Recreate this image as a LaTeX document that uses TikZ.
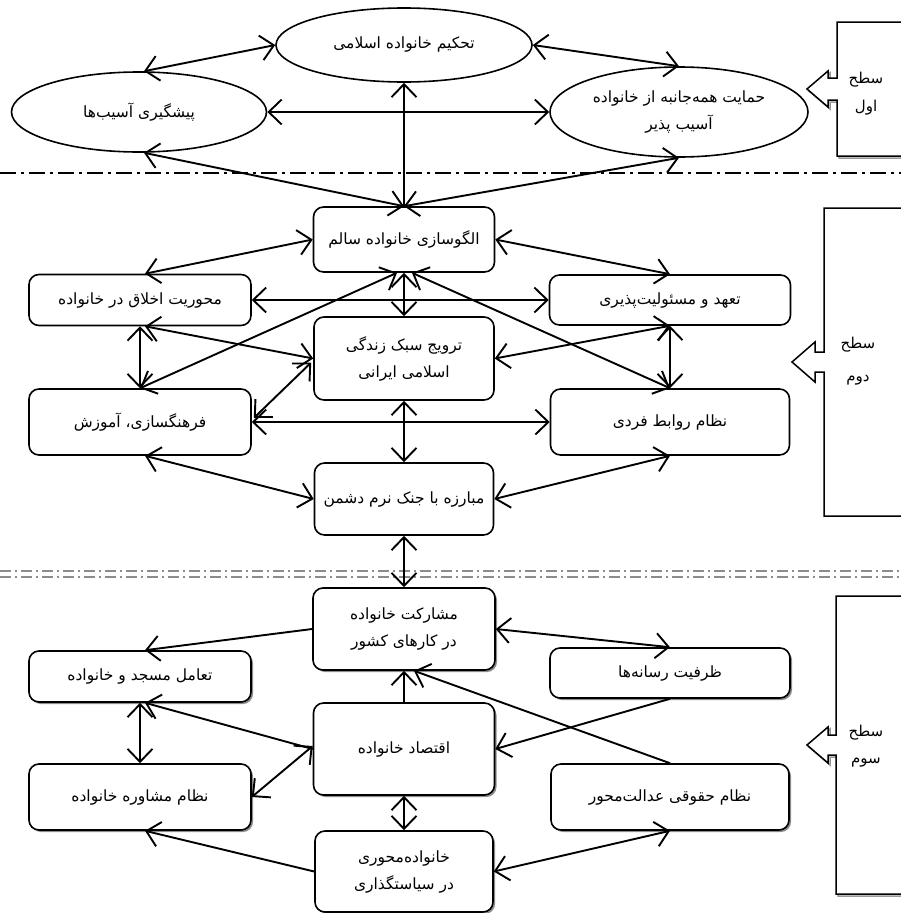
\documentclass[tikz,border=0pt]{standalone}
\usepackage{fontspec}
\newfontfamily\arabicfont[Script=Arabic]{DejaVu Sans}
\TeXXeTstate=1
\usetikzlibrary{shapes.geometric,arrows.meta,shadows,calc}
\begin{document}
\begin{tikzpicture}[x=1pt,y=-1pt,
  >={Straight Barb[length=13pt,width=25pt]},
  txt/.style={font=\arabicfont\fontsize{15.5}{27}\selectfont, align=center, inner sep=0pt},
  ovalnode/.style={txt, ellipse, draw, line width=1.6pt, fill=white},
  boxnode/.style={txt, rectangle, rounded corners=10pt, draw, line width=1.6pt, fill=white},
  shboxnode/.style={boxnode, drop shadow={shadow xshift=2pt, shadow yshift=-2pt, fill=black!45, opacity=1}},
  link/.style={line width=1.9pt},
  lvlbox/.style={line width=1.5pt, fill=white},
  lvlshadow/.style={line width=1.5pt, draw=black!40},
  lvllabel/.style={font=\arabicfont\fontsize{15}{20}\selectfont, inner sep=0pt}
]
\useasboundingbox (0,0) rectangle (901,913);

% separators
\draw[line width=1.5pt, dash pattern=on 16pt off 5pt on 3pt off 5pt] (0,173) -- (901,173);
\draw[line width=1.4pt, black!45, dash pattern=on 11pt off 4pt on 2pt off 4pt] (0,571) -- (901,571);
\draw[line width=1.4pt, black!45, dash pattern=on 11pt off 4pt on 2pt off 4pt] (0,577) -- (901,577);

% level boxes
\draw[lvlshadow] (905,24) -- (839,24) -- (839,80) -- (830,80) -- (830,73) -- (809,91) -- (830,109) -- (830,102) -- (839,102) -- (839,158) -- (905,158);
\draw[lvlbox] (905,22) -- (837,22) -- (837,78) -- (828,78) -- (828,71) -- (807,89) -- (828,107) -- (828,100) -- (837,100) -- (837,156) -- (905,156);
\draw[lvlbox] (905,208) -- (824,208) -- (824,352) -- (815,352) -- (815,342) -- (792,362) -- (815,382) -- (815,372) -- (824,372) -- (824,516) -- (905,516);
\draw[lvlshadow] (905,598) -- (838,598) -- (838,737) -- (830,737) -- (830,729) -- (809,747) -- (830,765) -- (830,757) -- (838,757) -- (838,896) -- (905,896);
\draw[lvlbox] (905,596) -- (836,596) -- (836,735) -- (828,735) -- (828,727) -- (807,745) -- (828,763) -- (828,755) -- (836,755) -- (836,894) -- (905,894);

\node[lvllabel] (L1a) at (866,80) {\beginR سطح\endR};
\node[lvllabel] (L1b) at (866,108) {\beginR اول\endR};
\node[lvllabel] (L2a) at (858,345) {\beginR سطح\endR};
\node[lvllabel] (L2b) at (858,380) {\beginR دوم\endR};
\node[lvllabel] (L3a) at (866,733) {\beginR سطح\endR};
\node[lvllabel] (L3b) at (866,763) {\beginR سوم\endR};

% level 1
\node[ovalnode, minimum width=256pt, minimum height=74pt] (E1) at (404,45) {\beginR تحکیم خانواده اسلامی\endR};
\node[ovalnode, minimum width=255pt, minimum height=80pt] (E2) at (139,112) {\beginR پیشگیری آسیب‌ها\endR};
\node[ovalnode, minimum width=258pt, minimum height=90pt] (E3) at (679,112) {\beginR حمایت همه‌جانبه از خانواده\endR\\\beginR آسیب پذیر\endR};

% level 2
\node[boxnode, minimum width=181pt, minimum height=65pt] (B1) at (404,239.5) {\beginR الگوسازی خانواده سالم\endR};
\node[boxnode, minimum width=222pt, minimum height=51pt] (B2) at (140,300) {\beginR محوریت اخلاق در خانواده\endR};
\node[boxnode, minimum width=241pt, minimum height=50pt] (B3) at (670,300) {\beginR تعهد و مسئولیت‌پذیری\endR};
\node[boxnode, minimum width=180pt, minimum height=83pt] (B4) at (404,358.5) {\beginR ترویج سبک زندگی\endR\\\beginR اسلامی ایرانی\endR};
\node[boxnode, minimum width=222pt, minimum height=66pt] (B5) at (140,422) {\beginR فرهنگسازی، آموزش\endR};
\node[boxnode, minimum width=239pt, minimum height=66pt] (B6) at (670,422) {\beginR نظام روابط فردی\endR};
\node[boxnode, minimum width=179pt, minimum height=72pt] (B7) at (404,499) {\beginR مبارزه با جنک نرم دشمن\endR};

% level 3
\node[shboxnode, minimum width=182pt, minimum height=82pt] (C1) at (404,629) {\beginR مشارکت خانواده\endR\\\beginR در کارهای کشور\endR};
\node[shboxnode, minimum width=222pt, minimum height=51pt] (C2) at (140,676.5) {\beginR تعامل مسجد و خانواده\endR};
\node[shboxnode, minimum width=240pt, minimum height=50pt] (C3) at (670,673) {\beginR ظرفیت رسانه‌ها\endR};
\node[shboxnode, minimum width=181pt, minimum height=92pt] (C4) at (404,749) {\beginR اقتصاد خانواده\endR};
\node[shboxnode, minimum width=222pt, minimum height=66pt] (C5) at (140,797) {\beginR نظام مشاوره خانواده\endR};
\node[shboxnode, minimum width=238pt, minimum height=66pt] (C6) at (670,797) {\beginR نظام حقوقی عدالت‌محور\endR};
\node[shboxnode, minimum width=178pt, minimum height=81pt] (C7) at (404,871.5) {\beginR خانواده‌محوری\endR\\\beginR در سیاستگذاری\endR};

% level 1 links
\draw[link,<->] ($(E2.north)+(5,0)$) -- (E1.west);
\draw[link,<->] (E1.east) -- (E3.north);
\draw[link,<->] (E2.east) -- (E3.west);
\draw[link,->] (B1.north) -- (E1.south);
\draw[link,<->] ($(E2.south)+(5,0)$) -- (B1.north);
\draw[link,<->] (E3.south) -- (B1.north);

% level 2 links
\draw[link,<->] (B1.west) -- ($(B2.north)+(5,0)$);
\draw[link,<->] (B1.east) -- (B3.north);
\draw[link,<->] (B2.east) -- (B3.west);
\draw[link,<->] (B1.south) -- (B4.north);
\draw[link,<->] ($(B2.south)+(5,0)$) -- (B4.west);
\draw[link,<->] (B5.north) -- ($(B1.south)+(-7,0)$);
\draw[link,<->] (B6.north) -- ($(B1.south)+(8,0)$);
\draw[link,<->] (B2.south) -- (B5.north);
\draw[link,<->] (B3.south) -- (B6.north);
\draw[link,<->] (B3.south) -- (B4.east);
\draw[link,<->] ($(B5.east)+(2,-4)$) -- ($(B4.west)+(-2,4)$);
\draw[link,<->] (B5.east) -- (B6.west);
\draw[link,<->] (B4.south) -- (B7.north);
\draw[link,<->] ($(B5.south)+(5,0)$) -- (B7.west);
\draw[link,<->] (B6.south) -- (B7.east);
\draw[link,<->] (B7.south) -- (C1.north);

% level 3 links
\draw[link,->] (C1.west) -- ($(C2.north)+(5,0)$);
\draw[link,<->] (C1.east) -- (C3.north);
\draw[link,->] (C4.north) -- (C1.south);
\draw[link,->] (C6.north) -- ($(C1.south)+(10,0)$);
\draw[link,->] (C3.south) -- (C4.east);
\draw[link,->] (C4.west) -- ($(C2.south)+(5,0)$);
\draw[link,<->] (C2.south) -- (C5.north);
\draw[link,<->] ($(C4.west)+(0,-3)$) -- (C5.east);
\draw[link,<->] (C4.south) -- (C7.north);
\draw[link,->] (C7.west) -- ($(C5.south)+(5,0)$);
\draw[link,<->] (C6.south) -- (C7.east);
\end{tikzpicture}
\end{document}
